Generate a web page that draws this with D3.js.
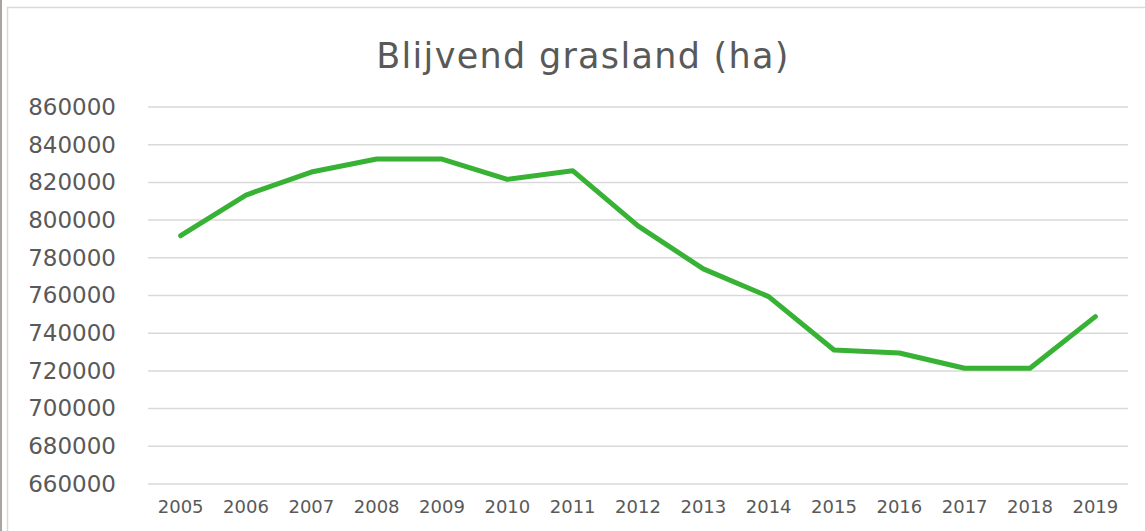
<!DOCTYPE html>
<html>
<head>
<meta charset="utf-8">
<script src="https://cdn.jsdelivr.net/npm/d3@7"></script>
<style>
  html, body { margin: 0; padding: 0; background: #fff; }
  body { width: 1145px; height: 531px; overflow: hidden; }
  svg { display: block; font-family: "DejaVu Sans", Verdana, sans-serif; }
</style>
</head>
<body>
<div id="chart"></div>
<script>
(function () {
  'use strict';

  var years = ['2005', '2006', '2007', '2008', '2009', '2010', '2011', '2012',
               '2013', '2014', '2015', '2016', '2017', '2018', '2019'];
  var grasland = [791700, 813300, 825500, 832400, 832400, 821600, 826200, 796900,
                  774100, 759400, 731100, 729500, 721400, 721400, 748800];
  var yTicks = [660000, 680000, 700000, 720000, 740000, 760000, 780000, 800000,
                820000, 840000, 860000];
  var title = 'Blijvend grasland (ha)';

  var width = 1145, height = 531;
  var margin = { top: 107, right: 17, bottom: 47, left: 148 };
  var iw = width - margin.left - margin.right;
  var ih = height - margin.top - margin.bottom;

  var svg = d3.select('#chart').append('svg').attr('width', width).attr('height', height);

  // frame: dark strip on the left, light chart border
  svg.append('rect').attr('x', 0).attr('y', 0).attr('width', 2).attr('height', height).attr('fill', '#a9a4a0');
  svg.append('rect').attr('x', 7.5).attr('y', 7.5).attr('width', width + 10).attr('height', height + 10)
    .attr('fill', 'none').attr('stroke', '#d9d9d9').attr('stroke-width', 1.5);

  var x = d3.scaleBand().domain(years).range([0, iw]);
  var y = d3.scaleLinear().domain([660000, 860000]).range([ih, 0]);

  var g = svg.append('g').attr('transform', 'translate(' + margin.left + ',' + margin.top + ')');

  // gridlines
  g.selectAll('line.grid').data(yTicks).enter().append('line')
    .attr('class', 'grid')
    .attr('x1', 0).attr('x2', iw)
    .attr('y1', function (d) { return y(d); }).attr('y2', function (d) { return y(d); })
    .attr('stroke', '#d9d9d9').attr('stroke-width', 1.5);

  // y axis labels
  var yAxis = d3.axisLeft(y).tickValues(yTicks).tickFormat(d3.format('d')).tickSize(0).tickPadding(32);
  var ya = g.append('g').call(yAxis);
  ya.select('.domain').remove();
  ya.selectAll('text').attr('fill', '#595959').attr('font-size', '23px')
    .attr('font-family', '"DejaVu Sans", Verdana, sans-serif');

  // x axis labels
  var xAxis = d3.axisBottom(x).tickSize(0).tickPadding(16);
  var xa = g.append('g').attr('transform', 'translate(0,' + ih + ')').call(xAxis);
  xa.select('.domain').remove();
  xa.selectAll('text').attr('fill', '#595959').attr('font-size', '18px')
    .attr('font-family', '"DejaVu Sans", Verdana, sans-serif');

  // line
  var line = d3.line()
    .x(function (d, i) { return x(years[i]) + x.bandwidth() / 2; })
    .y(function (d) { return y(d); });

  g.append('path').datum(grasland)
    .attr('d', line)
    .attr('fill', 'none')
    .attr('stroke', '#38b235')
    .attr('stroke-width', 5)
    .attr('stroke-linejoin', 'round')
    .attr('stroke-linecap', 'round');

  // title
  svg.append('text')
    .attr('x', 583).attr('y', 68)
    .attr('text-anchor', 'middle')
    .attr('fill', '#595959').attr('font-size', '35px')
    .attr('letter-spacing', '1.3px')
    .text(title);
})();
</script>
</body>
</html>
